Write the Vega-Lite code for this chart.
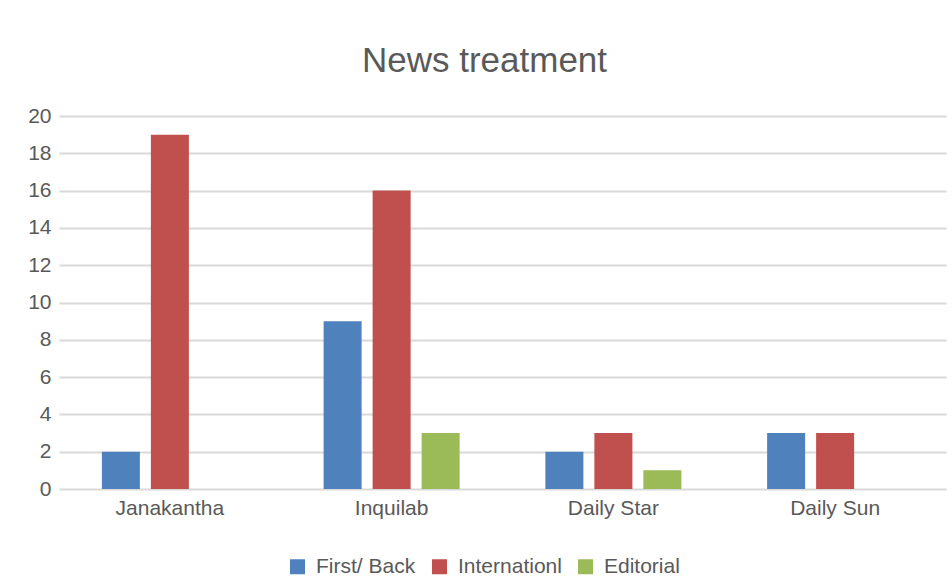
{
  "$schema": "https://vega.github.io/schema/vega-lite/v6.json",
  "autosize": {"type": "none"},
  "width": 887,
  "height": 373,
  "padding": {"left": 59, "top": 116, "right": 6, "bottom": 90},
  "background": "white",
  "title": {
    "text": "News treatment",
    "font": "Liberation Sans",
    "fontSize": 35,
    "fontWeight": "normal",
    "color": "#595959",
    "anchor": "middle",
    "baseline": "alphabetic",
    "offset": -2,
    "dx": -18
  },
  "data": {
    "values": [
      {"paper": "Janakantha", "type": "First/ Back", "value": 2},
      {"paper": "Janakantha", "type": "Internationl", "value": 19},
      {"paper": "Janakantha", "type": "Editorial", "value": 0},
      {"paper": "Inquilab", "type": "First/ Back", "value": 9},
      {"paper": "Inquilab", "type": "Internationl", "value": 16},
      {"paper": "Inquilab", "type": "Editorial", "value": 3},
      {"paper": "Daily Star", "type": "First/ Back", "value": 2},
      {"paper": "Daily Star", "type": "Internationl", "value": 3},
      {"paper": "Daily Star", "type": "Editorial", "value": 1},
      {"paper": "Daily Sun", "type": "First/ Back", "value": 3},
      {"paper": "Daily Sun", "type": "Internationl", "value": 3},
      {"paper": "Daily Sun", "type": "Editorial", "value": 0}
    ]
  },
  "mark": {"type": "bar"},
  "encoding": {
    "x": {
      "field": "paper",
      "type": "nominal",
      "sort": ["Janakantha", "Inquilab", "Daily Star", "Daily Sun"],
      "scale": {"paddingInner": 0, "paddingOuter": 0},
      "axis": {
        "title": null,
        "labelAngle": 0,
        "ticks": false,
        "domain": false,
        "labelPadding": 8,
        "labelFont": "Liberation Sans",
        "labelFontSize": 21,
        "labelColor": "#595959"
      }
    },
    "xOffset": {
      "field": "type",
      "type": "nominal",
      "sort": ["First/ Back", "Internationl", "Editorial"],
      "scale": {"paddingInner": 0.224, "paddingOuter": 0.875}
    },
    "y": {
      "field": "value",
      "type": "quantitative",
      "scale": {"domain": [0, 20]},
      "axis": {
        "title": null,
        "values": [0, 2, 4, 6, 8, 10, 12, 14, 16, 18, 20],
        "ticks": false,
        "domain": false,
        "labelPadding": 8,
        "labelFont": "Liberation Sans",
        "labelFontSize": 21,
        "labelColor": "#595959",
        "gridColor": "#d9d9d9",
        "gridWidth": 2
      }
    },
    "color": {
      "field": "type",
      "type": "nominal",
      "sort": ["First/ Back", "Internationl", "Editorial"],
      "scale": {"domain": ["First/ Back", "Internationl", "Editorial"], "range": ["#4F81BD", "#C0504D", "#9BBB59"]},
      "legend": {
        "title": null,
        "orient": "none",
        "direction": "horizontal",
        "legendX": 228,
        "legendY": 440,
        "symbolType": "square",
        "symbolSize": 225,
        "symbolStrokeWidth": 0,
        "labelFont": "Liberation Sans",
        "labelFontSize": 21,
        "labelColor": "#595959",
        "labelOffset": 8,
        "columnPadding": 13
      }
    }
  },
  "config": {
    "view": {"stroke": null}
  }
}
